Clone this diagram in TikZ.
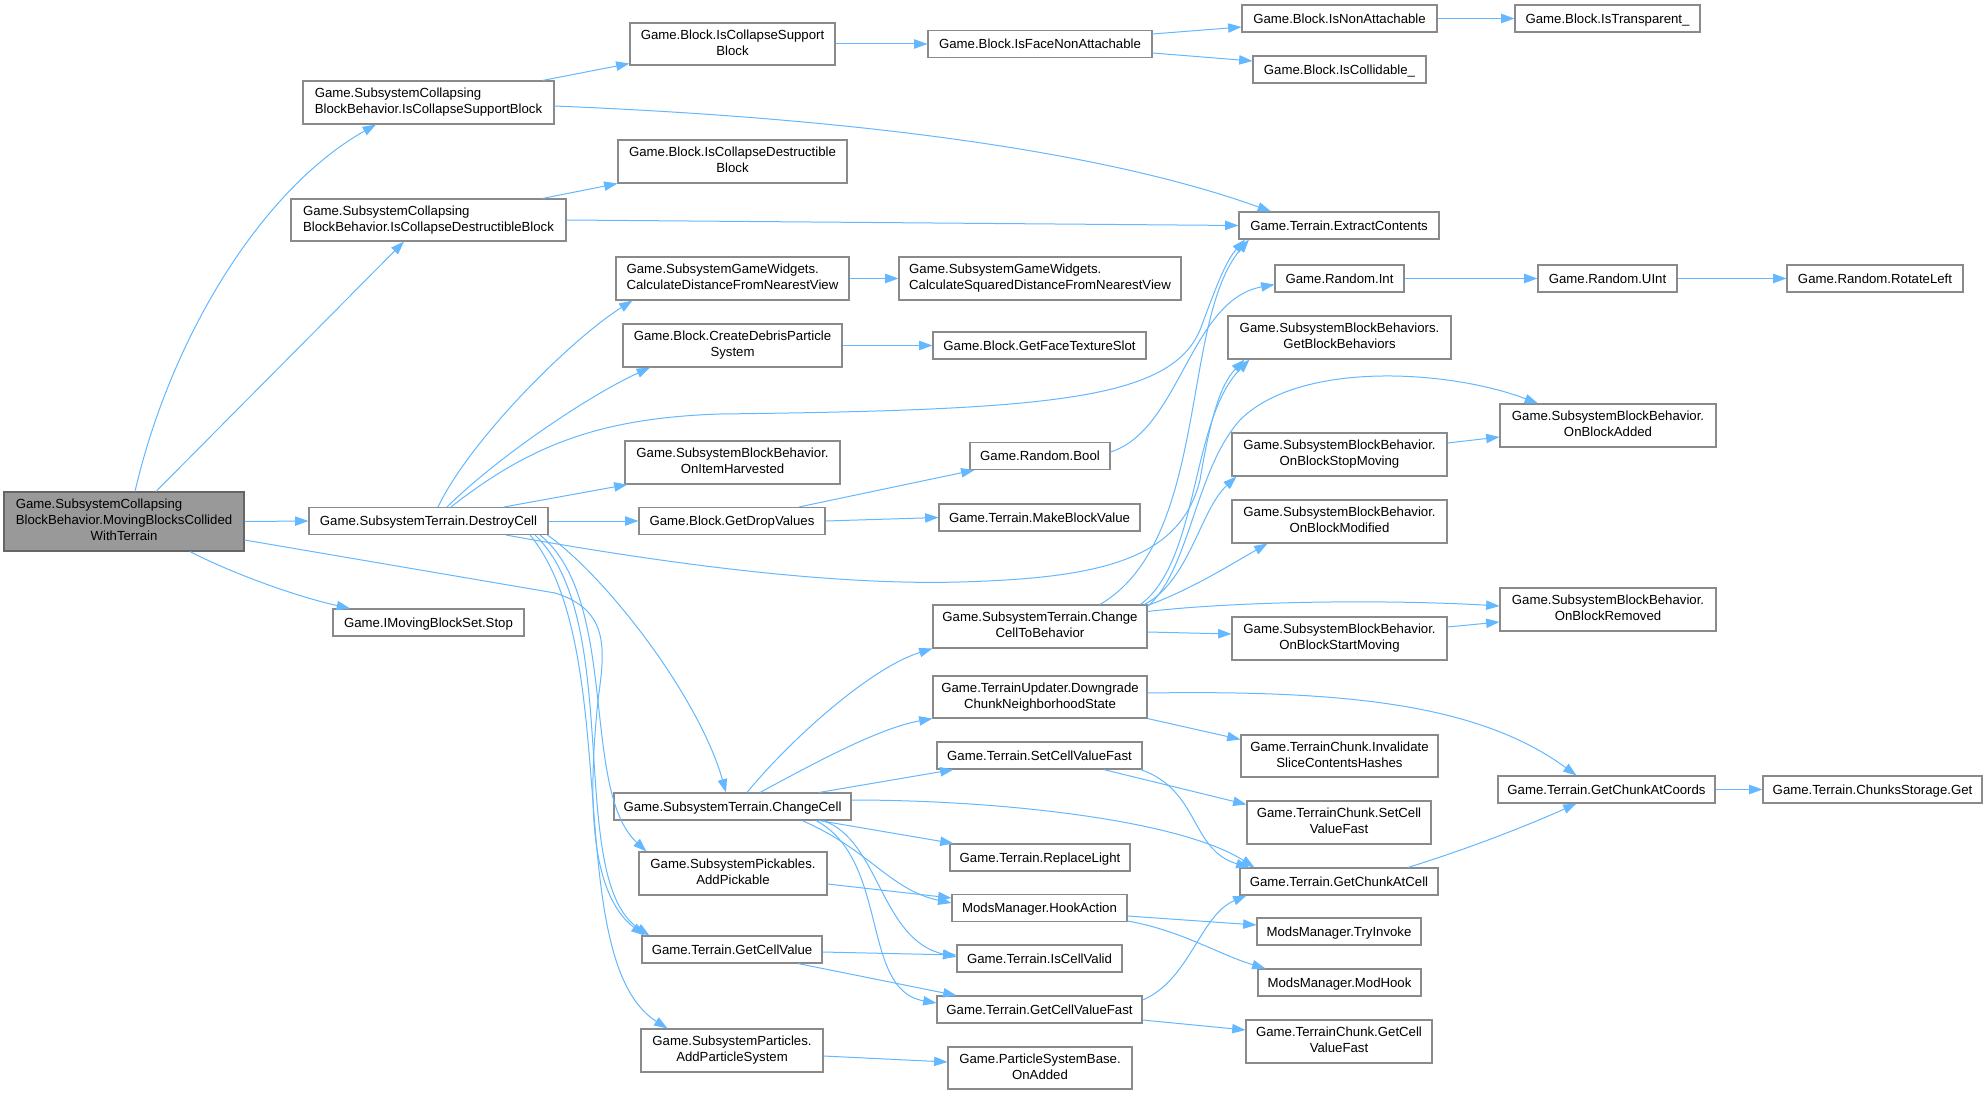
\documentclass[tikz,border=0pt]{standalone}
\usepackage{fontspec}
\setmainfont{Liberation Sans}
\usetikzlibrary{arrows.meta,calc}
\definecolor{edgec}{HTML}{63B8FF}
\definecolor{nodeb}{HTML}{8A8A8A}
\definecolor{rootf}{HTML}{999999}
\definecolor{rootb}{HTML}{666666}
\newcommand\twoline[2]{\begin{tabular}{@{}l@{}}#1\\\multicolumn{1}{@{}c@{}}{#2}\end{tabular}}
\newcommand\threeline[3]{\begin{tabular}{@{}l@{}}#1\\#2\\\multicolumn{1}{@{}c@{}}{#3}\end{tabular}}
\newcommand\fnode[7]{\node[#1, minimum width=#5*0.75pt, minimum height=#6*0.75pt] (#2) at (#3,#4) {#7};}
\begin{document}
\begin{tikzpicture}[x=0.75pt,y=-0.75pt,
  fn/.style={draw=nodeb, fill=white, line width=0.8pt, inner sep=1pt,
    font=\fontsize{9.9}{11.85}\selectfont},
  one/.style={fn, text height=7.1pt, text depth=0pt},
  root/.style={fn, fill=rootf, draw=rootb},
  edge/.style={draw=edgec, line width=0.75pt, -{Triangle[length=10pt,width=7pt]}}]
\fill[white] (0,0) rectangle (1987,1095);
\useasboundingbox (0,0) rectangle (1987,1095);
% ---- nodes ----
\fnode{root}{mbc}{124}{521.5}{240}{59}{\threeline{Game.SubsystemCollapsing}{BlockBehavior.MovingBlocksCollided}{WithTerrain}}
\fnode{fn}{scbs}{428.5}{102.5}{251}{43}{\twoline{Game.SubsystemCollapsing}{BlockBehavior.IsCollapseSupportBlock}}
\fnode{fn}{scbd}{428.5}{220}{275}{42}{\twoline{Game.SubsystemCollapsing}{BlockBehavior.IsCollapseDestructibleBlock}}
\fnode{one}{dcell}{428.5}{521}{239}{27}{Game.SubsystemTerrain.DestroyCell}
\fnode{one}{stop}{428.5}{622.5}{191}{27}{Game.IMovingBlockSet.Stop}
\fnode{fn}{bics}{732.5}{44}{205}{42}{\twoline{Game.Block.IsCollapseSupport}{Block}}
\fnode{fn}{bicd}{732.5}{161.5}{229}{43}{\twoline{Game.Block.IsCollapseDestructible}{Block}}
\fnode{fn}{sgwcd}{732.5}{278.5}{233}{43}{\twoline{Game.SubsystemGameWidgets.}{CalculateDistanceFromNearestView}}
\fnode{fn}{debris}{732.5}{345.5}{219}{43}{\twoline{Game.Block.CreateDebrisParticle}{System}}
\fnode{fn}{harv}{732.5}{462.5}{215}{43}{\twoline{Game.SubsystemBlockBehavior.}{OnItemHarvested}}
\fnode{one}{drop}{732}{521}{186}{27}{Game.Block.GetDropValues}
\fnode{one}{ccell}{732.5}{806.5}{237}{27}{Game.SubsystemTerrain.ChangeCell}
\fnode{fn}{pick}{733}{873.5}{188}{43}{\twoline{Game.SubsystemPickables.}{AddPickable}}
\fnode{one}{gcv}{732}{949.5}{180}{27}{Game.Terrain.GetCellValue}
\fnode{fn}{part}{732}{1050.5}{182}{43}{\twoline{Game.SubsystemParticles.}{AddParticleSystem}}
\fnode{one}{face}{1040}{44}{224}{27}{Game.Block.IsFaceNonAttachable}
\fnode{fn}{sgwsq}{1040}{278.5}{282}{43}{\twoline{Game.SubsystemGameWidgets.}{CalculateSquaredDistanceFromNearestView}}
\fnode{one}{slot}{1039.5}{345.5}{213}{27}{Game.Block.GetFaceTextureSlot}
\fnode{one}{rbool}{1040}{456}{140}{27}{Game.Random.Bool}
\fnode{one}{mbv}{1039.5}{517.5}{201}{27}{Game.Terrain.MakeBlockValue}
\fnode{fn}{cctb}{1040}{626.5}{214}{43}{\twoline{Game.SubsystemTerrain.Change}{CellToBehavior}}
\fnode{fn}{dgr}{1040}{697}{214}{42}{\twoline{Game.TerrainUpdater.Downgrade}{ChunkNeighborhoodState}}
\fnode{one}{scvf}{1039.5}{755.5}{205}{27}{Game.Terrain.SetCellValueFast}
\fnode{one}{light}{1040}{857.5}{180}{27}{Game.Terrain.ReplaceLight}
\fnode{one}{hook}{1039.5}{908}{175}{27}{ModsManager.HookAction}
\fnode{one}{valid}{1039.5}{958.5}{165}{27}{Game.Terrain.IsCellValid}
\fnode{one}{gcvf}{1039.5}{1009.5}{205}{27}{Game.Terrain.GetCellValueFast}
\fnode{fn}{onadd}{1040}{1068}{184}{42}{\twoline{Game.ParticleSystemBase.}{OnAdded}}
\fnode{one}{nonatt}{1339.5}{18.5}{195}{27}{Game.Block.IsNonAttachable}
\fnode{one}{collid}{1339.5}{69.5}{173}{27}{Game.Block.IsCollidable\_}
\fnode{one}{extract}{1339}{225.5}{200}{27}{Game.Terrain.ExtractContents}
\fnode{one}{rint}{1339.5}{278.5}{129}{27}{Game.Random.Int}
\fnode{fn}{gbb}{1339.5}{337.5}{223}{43}{\twoline{Game.SubsystemBlockBehaviors.}{GetBlockBehaviors}}
\fnode{fn}{stopm}{1339.5}{454.5}{215}{43}{\twoline{Game.SubsystemBlockBehavior.}{OnBlockStopMoving}}
\fnode{fn}{modif}{1339.5}{521.5}{215}{43}{\twoline{Game.SubsystemBlockBehavior.}{OnBlockModified}}
\fnode{fn}{startm}{1339.5}{638.5}{215}{43}{\twoline{Game.SubsystemBlockBehavior.}{OnBlockStartMoving}}
\fnode{fn}{inval}{1339.5}{756}{197}{42}{\twoline{Game.TerrainChunk.Invalidate}{SliceContentsHashes}}
\fnode{fn}{tcscvf}{1339}{822.5}{184}{43}{\twoline{Game.TerrainChunk.SetCell}{ValueFast}}
\fnode{one}{gcac}{1339}{881.5}{198}{27}{Game.Terrain.GetChunkAtCell}
\fnode{one}{tryinv}{1339}{931.5}{164}{27}{ModsManager.TryInvoke}
\fnode{one}{modhook}{1339.5}{982.5}{163}{27}{ModsManager.ModHook}
\fnode{fn}{tcgcvf}{1339}{1041.5}{186}{43}{\twoline{Game.TerrainChunk.GetCell}{ValueFast}}
\fnode{one}{transp}{1607.5}{18.5}{185}{27}{Game.Block.IsTransparent\_}
\fnode{one}{uint}{1607.5}{278.5}{139}{27}{Game.Random.UInt}
\fnode{fn}{blkadd}{1608}{425.5}{216}{43}{\twoline{Game.SubsystemBlockBehavior.}{OnBlockAdded}}
\fnode{fn}{blkrem}{1608}{609.5}{216}{43}{\twoline{Game.SubsystemBlockBehavior.}{OnBlockRemoved}}
\fnode{one}{gcacoords}{1606.5}{789.5}{217}{27}{Game.Terrain.GetChunkAtCoords}
\fnode{one}{rot}{1875}{278.5}{176}{27}{Game.Random.RotateLeft}
\fnode{one}{chget}{1872.5}{789.5}{219}{27}{Game.Terrain.ChunksStorage.Get}
% ---- edges from the root ----
\draw[edge] ($(mbc.north)+(11,0)$) .. controls (170,340) and (260,190) .. ($(scbs.south)+(-52.5,0)$);
\draw[edge] ($(mbc.north)+(32,0)$) -- ($(scbd.south)+(-24.5,0)$);
\draw[edge] (mbc.east) -- (dcell.west);
\draw[edge] ($(mbc.south)+(66,0)$) .. controls (225,570) and (290,595) .. ($(stop.north)+(-78.5,0)$);
\draw[edge] ($(mbc.east)+(0,18.5)$) -- (555,593) .. controls (610,610) and (605,650) .. (598,700) .. controls (590,780) and (585,890) .. ($(gcv.north west)+(3,0)$);
% ---- DestroyCell ----
\draw[edge] ($(dcell.north)+(9.5,0)$) .. controls (470,440) and (570,340) .. ($(sgwcd.south)+(-100,0)$);
\draw[edge] ($(dcell.north)+(18.5,0)$) .. controls (500,455) and (590,395) .. ($(debris.south)+(-82.5,0)$);
\draw[edge] ($(dcell.north)+(22.5,0)$) .. controls (530,445) and (600,418) .. (720,414) .. controls (1050,410) and (1170,400) .. (1200,330) .. controls (1215,290) and (1225,262) .. ($(extract.south)+(-94,0)$);
\draw[edge] ($(dcell.north)+(75.5,0)$) -- ($(harv.south west)+(3,0)$);
\draw[edge] (dcell.east) -- (drop.west);
\draw[edge] ($(dcell.south)+(77.5,0)$) .. controls (700,570) and (850,585) .. (960,582) .. controls (1100,578) and (1180,560) .. (1200,480) .. controls (1210,420) and (1220,385) .. ($(gbb.south)+(-95,0)$);
\draw[edge] ($(dcell.south east)+(-1,0)$) .. controls (610,580) and (700,700) .. ($(ccell.north)+(-6.5,0)$);
\draw[edge] ($(dcell.south)+(111.5,0)$) .. controls (620,600) and (580,790) .. ($(pick.north west)+(8,0)$);
\draw[edge] ($(dcell.south)+(106.5,0)$) .. controls (625,620) and (565,880) .. ($(gcv.north west)+(8,0)$);
\draw[edge] ($(dcell.south)+(101.5,0)$) .. controls (625,650) and (560,960) .. ($(part.north west)+(27,0)$);
% ---- upper part ----
\draw[edge] (bics.east) -- (face.west);
\draw[edge] ($(face.east)+(0,-10)$) -- ($(nonatt.west)+(0,8.5)$);
\draw[edge] ($(face.east)+(0,9)$) -- ($(collid.west)+(0,-8.5)$);
\draw[edge] (nonatt.east) -- (transp.west);
\draw[edge] ($(scbs.north)+(114,0)$) -- ($(bics.south west)+(0,-2)$);
\draw[edge] ($(scbs.east)+(0,3.5)$) .. controls (850,118) and (1100,150) .. ($(extract.north)+(-68,0)$);
\draw[edge] ($(scbd.north)+(114,0)$) -- (bicd.south west);
\draw[edge] (scbd.east) -- (extract.west);
\draw[edge] (sgwcd.east) -- (sgwsq.west);
\draw[edge] (debris.east) -- (slot.west);
\draw[edge] ($(drop.north)+(67,0)$) -- ($(rbool.south west)+(5,0)$);
\draw[edge] (drop.east) -- (mbv.west);
\draw[edge] ($(rbool.east)+(0,-4)$) .. controls (1180,430) and (1190,300) .. ($(rint.west)+(0,6)$);
\draw[edge] (rint.east) -- (uint.west);
\draw[edge] (uint.east) -- (rot.west);
% ---- ChangeCell ----
\draw[edge] ($(ccell.north)+(14.5,0)$) .. controls (790,740) and (870,668) .. (cctb.south west);
\draw[edge] ($(ccell.north)+(27.5,0)$) .. controls (820,760) and (880,728) .. (dgr.south west);
\draw[edge] ($(ccell.north)+(86.5,0)$) -- ($(scvf.south west)+(17,0)$);
\draw[edge] ($(ccell.east)+(0,-6.5)$) .. controls (1000,800) and (1180,820) .. ($(gcac.north west)+(15,0)$);
\draw[edge] ($(ccell.south)+(86.5,0)$) -- ($(light.north west)+(4,0)$);
\draw[edge] ($(ccell.south)+(69.5,0)$) .. controls (870,850) and (890,890) .. ($(hook.west)+(0,-5)$);
\draw[edge] ($(ccell.south)+(90.5,0)$) .. controls (880,840) and (880,940) .. ($(valid.west)+(0,-1.5)$);
\draw[edge] ($(ccell.south)+(83.5,0)$) .. controls (890,860) and (860,990) .. ($(gcvf.west)+(0,-6.5)$);
% ---- lower middle ----
\draw[edge] ($(scvf.south)+(64,0)$) -- ($(tcscvf.north west)+(0,4)$);
\draw[edge] ($(scvf.south east)+(-2,0)$) .. controls (1200,790) and (1190,850) .. ($(gcac.north west)+(10,0)$);
\draw[edge] (dgr.south east) -- ($(inval.north west)+(0,5)$);
\draw[edge] ($(dgr.east)+(0,-4)$) .. controls (1350,690) and (1480,705) .. ($(gcacoords.north)+(-30,0)$);
\draw[edge] ($(gcac.north)+(69,0)$) .. controls (1480,845) and (1540,820) .. ($(gcacoords.south)+(-30,0)$);
\draw[edge] (gcacoords.east) -- (chget.west);
\draw[edge] ($(gcvf.east)+(0,-9.5)$) .. controls (1190,980) and (1200,915) .. ($(gcac.south west)+(7,0)$);
\draw[edge] ($(gcvf.east)+(0,10.5)$) -- ($(tcgcvf.west)+(0,-11.5)$);
\draw[edge] ($(gcv.east)+(0,2.5)$) -- ($(valid.west)+(0,-3.5)$);
\draw[edge] ($(gcv.south)+(66,0)$) -- ($(gcvf.north west)+(20,0)$);
\draw[edge] ($(pick.east)+(0,10.5)$) -- ($(hook.west)+(0,-10)$);
\draw[edge] ($(hook.east)+(0,8)$) -- ($(tryinv.west)+(0,-6.5)$);
\draw[edge] ($(hook.south east)+(0,-1)$) .. controls (1180,930) and (1220,955) .. ($(modhook.north west)+(8,0)$);
\draw[edge] ($(part.east)+(0,5.5)$) -- ($(onadd.west)+(0,-6)$);
% ---- ChangeCellToBehavior ----
\draw[edge] ($(cctb.east)+(0,5.5)$) -- ($(startm.west)+(0,-4.5)$);
\draw[edge] ($(cctb.north east)+(0,7)$) .. controls (1250,600) and (1400,600) .. ($(blkrem.west)+(0,-3.5)$);
\draw[edge] ($(startm.east)+(0,-11.5)$) -- ($(blkrem.west)+(0,12.5)$);
\draw[edge] ($(stopm.east)+(0,-11.5)$) -- ($(blkadd.west)+(0,11.5)$);
\draw[edge] ($(cctb.north east)+(0,2)$) .. controls (1190,570) and (1195,470) .. (1240,420) .. controls (1300,360) and (1450,370) .. ($(blkadd.north)+(-70,0)$);
\draw[edge] ($(cctb.north east)+(-3,0)$) .. controls (1190,580) and (1200,510) .. ($(stopm.south west)+(5,0)$);
\draw[edge] ($(cctb.north east)+(0,1)$) .. controls (1190,590) and (1230,565) .. ($(modif.south)+(-72,0)$);
\draw[edge] ($(cctb.north east)+(-7,0)$) .. controls (1200,560) and (1190,420) .. ($(gbb.south)+(-90,0)$);
\draw[edge] ($(cctb.north)+(60,0)$) .. controls (1210,540) and (1180,320) .. ($(extract.south)+(-90,0)$);
\end{tikzpicture}
\end{document}
